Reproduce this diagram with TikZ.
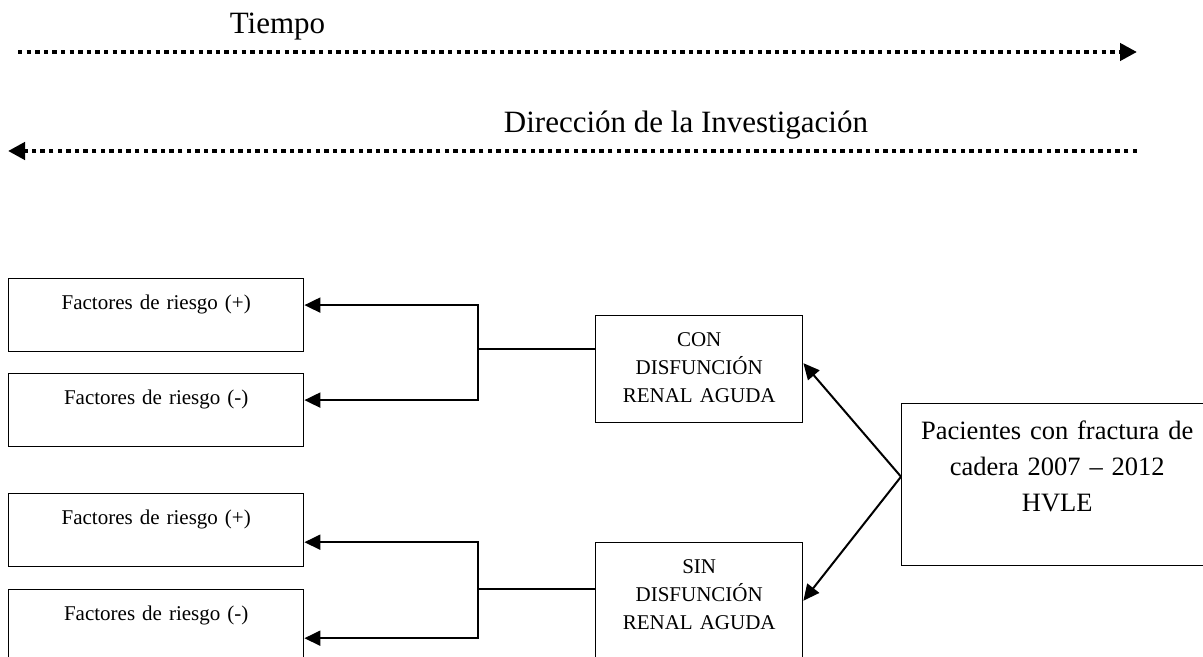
\documentclass[tikz,border=0pt]{standalone}
\usepackage{fontspec}
\setmainfont{Liberation Serif}
\usetikzlibrary{arrows.meta}

\tikzset{
  caja/.style={draw, line width=0.7pt, inner sep=0pt, align=center,
    text height=15.5pt, font=\fontsize{10.5}{14}\selectfont},
  factor/.style={caja, text width=147.5pt, text depth=21pt},
  grupo/.style={caja, text width=103.5pt},
  titulo/.style={inner sep=0pt, font=\fontsize{15.5}{18}\selectfont},
  flecha/.style={line width=1pt, -{Triangle[length=8pt,width=7.5pt]}},
  linea/.style={line width=0.75pt},
  punteada/.style={line width=2.3pt, dash pattern=on 2.2pt off 2.1pt,
    -{Triangle[length=8.5pt,width=8.5pt]}},
}

\begin{document}
\begin{tikzpicture}[x=0.5pt, y=-0.5pt]
    \useasboundingbox (0,0) rectangle (1203,657);

    % tiempo y direccion
    \node[titulo, anchor=base] (tiempo) at (277.5,34) {Tiempo};
    \coordinate (tiempo-ini) at (18,52);
    \coordinate (tiempo-fin) at (1137,52);
    \draw[punteada] (tiempo-ini) -- (tiempo-fin);

    \node[titulo, anchor=base] (direccion) at (686,133) {Dirección de la Investigación};
    \coordinate (inv-ini) at (1137,151);
    \coordinate (inv-fin) at (8,151);
    \draw[punteada] (inv-ini) -- (inv-fin);

    % factores
    \node[factor, anchor=north west] (fmas1) at (8,278) {Factores de riesgo (+)};
    \node[factor, anchor=north west] (fmenos1) at (8,373) {Factores de riesgo (-)};
    \node[factor, anchor=north west] (fmas2) at (8,493) {Factores de riesgo (+)};
    \node[factor, anchor=north west] (fmenos2) at (8,589) {Factores de riesgo (-)};

    % grupos
    \node[grupo, text depth=38pt, anchor=north west] (con) at (595,315)
      {CON\\DISFUNCIÓN\\RENAL AGUDA};
    \node[grupo, text depth=42.5pt, anchor=north west] (sin) at (595,542)
      {SIN\\DISFUNCIÓN\\RENAL AGUDA};

    \node[caja, font=\fontsize{13.25}{18}\selectfont, text width=155.5pt,
      text height=18pt, text depth=63pt, anchor=north west] (pac) at (901,403)
      {Pacientes con fractura de\\cadera 2007 \textendash{} 2012\\HVLE};

    % conexiones
    \coordinate (jcon) at (478,349);
    \coordinate (jsin) at (478,589);
    \draw[linea] (jcon) -- (jcon -| con.west);
    \draw[flecha] (jcon) |- (fmas1.mid east);
    \draw[flecha] (jcon) |- (fmenos1.mid east);
    \draw[linea] (jsin) -- (jsin -| sin.west);
    \draw[flecha] (jsin) |- ([yshift=-6pt]fmas2.east);
    \draw[flecha] (jsin) |- ([yshift=-6pt]fmenos2.east);

    \coordinate (pacw) at ([yshift=4pt]pac.west);
    \draw[flecha] (pacw) -- ([yshift=3pt]con.east);
    \draw[flecha] (pacw) -- (sin.east);
\end{tikzpicture}
\end{document}
